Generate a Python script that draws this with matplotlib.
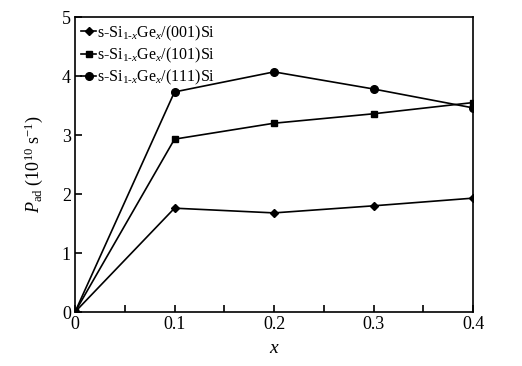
# s-Si1-xGex: P_ad vs x for three substrate orientations
import matplotlib.pyplot as plt
import numpy as np

plt.rcParams['font.family'] = ['Liberation Serif', 'DejaVu Serif']
plt.rcParams['mathtext.fontset'] = 'custom'
plt.rcParams['mathtext.rm'] = 'Liberation Serif'
plt.rcParams['mathtext.it'] = 'Liberation Serif:italic'

# data
x = [0, 0.1, 0.2, 0.3, 0.4]
p_001 = [0, 1.76, 1.68, 1.80, 1.93]
p_101 = [0, 2.93, 3.20, 3.36, 3.55]
p_111 = [0, 3.73, 4.07, 3.78, 3.46]

labels = [r"s-Si$_{1\text{-}x}$Ge$_x$/(001)Si",
          r"s-Si$_{1\text{-}x}$Ge$_x$/(101)Si",
          r"s-Si$_{1\text{-}x}$Ge$_x$/(111)Si"]
xticks = [0, 0.1, 0.2, 0.3, 0.4]
xtick_labels = ["0", "0.1", "0.2", "0.3", "0.4"]
yticks = [0, 1, 2, 3, 4, 5]

fig = plt.figure(figsize=(5.22, 3.66), dpi=100)
ax = fig.add_axes([0.1437, 0.1475, 0.7625, 0.806])

ax.plot(x, p_001, color="black", lw=1.2, marker="D", ms=4, label=labels[0])
ax.plot(x, p_101, color="black", lw=1.2, marker="s", ms=5, label=labels[1])
ax.plot(x, p_111, color="black", lw=1.2, marker="o", ms=5.5, label=labels[2])

ax.set_xlim(0, 0.4)
ax.set_ylim(0, 5)
ax.set_xticks(xticks)
ax.set_xticklabels(xtick_labels)
ax.set_xticks(np.arange(0.05, 0.4, 0.1), minor=True)
ax.set_yticks(yticks)
ax.tick_params(direction="in", length=5, width=1.2, labelsize=13, pad=3)
ax.tick_params(which="minor", direction="in", length=5, width=1.2)
for s in ax.spines.values():
    s.set_linewidth(1.2)

ax.set_xlabel(r"$x$", fontsize=14, labelpad=5)
ax.set_ylabel(r"$P_{\mathrm{ad}}$ (10$^{10}$ s$^{-1}$)", fontsize=13, labelpad=12)

ax.legend(loc="upper left", frameon=False, fontsize=11.5, handlelength=0.9,
          handletextpad=0.1, borderaxespad=0.1, labelspacing=0.2,
          borderpad=0.3)

fig.savefig("out.png", dpi=100)
